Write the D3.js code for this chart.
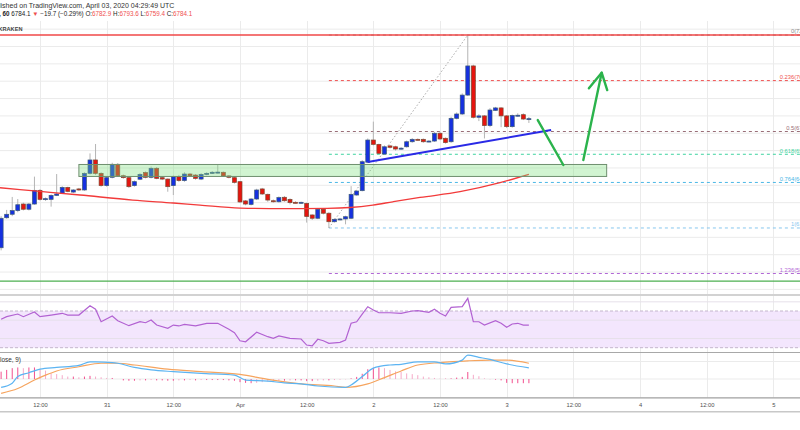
<!DOCTYPE html>
<html>
<head>
<meta charset="utf-8">
<script src="https://cdn.jsdelivr.net/npm/d3@7"></script>
<style>
  body { margin: 0; background: #fff; }
  svg { display: block; }
  text { font-family: "Liberation Sans", Arial, sans-serif; }
</style>
</head>
<body>
<svg width="800" height="430"></svg>
<script>
// hourly BTCUSD candles, Mar 30 05:00 UTC -> Apr 3 04:00 UTC
const candleOpen  = [6040,6213,6233,6254,6292,6262,6292, 6371,6319,6319,6342,6354,6388,6361,6379,6373,6469,6546,6469,6398,6446,6521,6455,6444,6398,6435,6473,6446,6498,6444,6436,6398,6450,6427,6465,6459,6436,6463,6469,6474,6475,6454,6444, 6421,6310,6290,6321,6379,6348,6311,6305,6331,6319,6302,6300,6296,6229,6210,6262,6239,6190,6205,6206, 6210,6344,6369,6533,6661,6636,6580,6627,6622,6612,6622,6651,6665,6665,6654,6655,6700,6671,6651,6786,6811,6920,7088,6792,6800,6744,6832,6846,6800,6738,6803,6807,6782.9];
const candleHigh  = [6222,6258,6333,6321,6300,6298,6450, 6378,6330,6348,6465,6395,6392,6378,6385,6475,6584,6638,6475,6450,6530,6528,6462,6450,6428,6470,6480,6508,6505,6450,6440,6456,6460,6475,6470,6465,6470,6475,6482,6517,6480,6458,6450, 6425,6315,6326,6380,6385,6352,6318,6336,6338,6325,6308,6306,6300,6233,6268,6268,6245,6210,6212,6225, 6395,6372,6545,6670,6767,6640,6630,6632,6628,6620,6658,6672,6670,6670,6660,6708,6708,6676,6795,6820,6930,7266,7095,6810,6805,6845,6852,6850,6805,6808,6815,6815,6793.6];
const candleLow   = [6025,6207,6222,6245,6255,6255,6288, 6312,6310,6277,6338,6350,6360,6355,6368,6368,6462,6460,6392,6392,6440,6450,6438,6385,6392,6430,6440,6440,6435,6430,6363,6344,6420,6420,6450,6432,6430,6458,6465,6468,6448,6440,6410, 6298,6285,6284,6315,6344,6305,6300,6300,6305,6290,6296,6293,6185,6200,6205,6232,6154,6185,6198,6175, 6205,6340,6365,6528,6630,6578,6575,6612,6600,6605,6617,6645,6658,6645,6648,6650,6660,6640,6645,6780,6805,6915,6785,6770,6670,6735,6828,6735,6730,6732,6795,6776,6759.4];
const candleClose = [6210,6233,6254,6288,6262,6292,6371, 6319,6323,6342,6350,6388,6365,6373,6373,6469,6546,6469,6398,6444,6521,6455,6444,6392,6421,6463,6446,6498,6440,6436,6392,6450,6427,6465,6455,6440,6463,6469,6475,6476,6454,6446,6417, 6304,6292,6321,6373,6350,6315,6305,6329,6311,6300,6300,6302,6220,6210,6262,6239,6190,6204,6206,6219, 6348,6367,6536,6661,6636,6584,6622,6619,6609,6614,6651,6665,6664,6651,6655,6700,6667,6646,6786,6811,6920,7088,6792,6800,6744,6834,6846,6800,6738,6803,6804,6782,6784.1];
const firstCandleHour = -7; // hours after Mar 30 12:00 UTC

// 100 SMA (hour, price)
const maHours  = [-7.2, 0, 7.2, 16.7, 24, 28.8, 36, 41.4, 46.8, 51.7, 55.8, 59.9, 63.5, 68.4, 75.6, 82.8, 88];
const maValues = [6386, 6365, 6344, 6315, 6298, 6286, 6269, 6266, 6266, 6267, 6272, 6286, 6305, 6330, 6363, 6415, 6463];

// RSI (14)
const rsiHours  = [-7,-6,-4,-3,-1,0,2,4,5,7,9,10,11,13,14,16,18,19,20,21,23,24,25,26,28,30,32,34,35,36,37,39,41,42,43,45,47,48,49,50,51,52,54,55,56,57,58,59,60,61,63,65,67,68,70,71,72,73,74,76,77,78,79,80,82,83,84,85,86,87,88];
const rsiValues = [61,63.8,66.7,63.8,68.9,63.8,65.6,67.5,65.6,65.6,75.8,71.9,58.3,64.5,59.4,54,58.3,57.2,60.2,54.7,51.1,54.7,53.7,55.5,53.7,56.6,56.6,50.1,46.3,37.6,36.5,46.8,42,40.2,42.8,40.2,39.5,32.9,31.9,39.2,37.6,34.8,35.9,38.4,56.6,58.3,66.7,74.7,71.1,68.1,68.1,67.5,70,70.3,68.6,71.9,67.5,64.5,74,74.7,83.8,58.3,58.3,54.7,59.4,56.6,52.2,55.8,56.6,54.7,54.7];

// MACD (12, 26, close, 9)
const macdHours  = [-7,-5,-4,-2,0,3,7,9,10,13,14,17,20,24,29,35,37,41,44,47,50,55,56,58,60,63,65,68,71,73,76,77,79,81,84,88];
const macdValues = [-24,-12,7,18,28,33,39,49,49,47,45,33,26,21,16,11,-3,-6,-11,-14,-20,-24,-17,7,31,40,42,49,49,43,54,68,62,56,43,32];
const signalHours  = [-7,-4,-1,1,3,7,11,14,17,23,29,36,41,47,53,55,59,62,65,68,72,77,81,84,88];
const signalValues = [-41,-27,-3,11,23,35,45,45,40,28,21,13,-1,-14,-20,-24,-14,4,23,40,47,52,54,54,45];
const histValues = [21,26,31,33,31,33,33, 28,24,16,14,11,7,7,5,7,9,7,5,3,3,0,
  -4,-5,-5,-4,-4,-3,-4,-4,-5,-5,-4,-4,-3,-4,-3,-3,-3,-3,-3,-4,-5,
  -9,-11,-12,-11,-9,-7,-6,-5,-5,-4,-4,-4,-6,-6,-5,-4,-4,-3,-2,-1,
  2,6,15,28,32,33,31,26,22,20,16,14,11,7,5,3,1,1,2,4,6,20,12,8,2,-1,-2,-4,-11,-12,-12,-12,-12];

// fibonacci retracement from the Apr 1 low to the Apr 2 high
const fibLevels = [0, 0.236, 0.5, 0.618, 0.764, 1, 1.236];
const fibColors = ["#8a8a8a", "#f05252", "#9a6f78", "#3fd3a0", "#4bb7e6", "#86c6ee", "#b268d6"];
const fibLowHour = 52, fibHighHour = 77;
const fibLow = 6154, fibHigh = 7266;

// drawings
const zoneHours = [7, 102], zonePrices = [6451, 6520];
const trendHours = [59, 92], trendPrices = [6534, 6719];
const arrowHours = [89.6, 94.2], arrowPrices = [6776, 6517];
const upHours = [97.8, 101.1], upPrices = [6546, 7049];
const headHours = [98.8, 101.1, 102.1], headPrices = [6959, 7049, 6949];
const greenLinePrice = 5848;

let svg = d3.select("svg");
const W = 800;
const mainTop = 21, mainBottom = 294, rsiTop = 296, rsiBottom = 352, macdTop = 353, macdBottom = 397.5;

let x = d3.scaleUtc()
  .domain([new Date(Date.UTC(2020, 2, 30, 4, 48)), new Date(Date.UTC(2020, 3, 5, 4, 48))])
  .range([0, W]);
//hours after Mar 30 12:00 -> pixel
let hx = h => x(new Date(Date.UTC(2020, 2, 30, 12) + h * 36e5));
let y = d3.scaleLinear().domain([6200, 7300]).range([220, 29.15]);
let yRsi = d3.scaleLinear().domain([30, 70]).range([347.7, 311]);
let yMacd = d3.scaleLinear().domain([0, 50]).range([379, 361.5]);

let defs = svg.append("defs");
function clip(id, top, bottom){
  defs.append("clipPath").attr("id", id).append("rect")
    .attr("x", 0).attr("y", top).attr("width", W).attr("height", bottom - top);
}
clip("clipMain", mainTop, mainBottom);
clip("clipRsi", rsiTop, rsiBottom);
clip("clipMacd", macdTop, macdBottom);

//grid
let tickTimes = d3.utcHour.every(12).range(x.domain()[0], x.domain()[1]);
let grid = svg.append("g").attr("stroke", "#ebebeb").attr("stroke-width", 1);
grid.selectAll(".vg").data(tickTimes).enter().append("line")
  .attr("x1", d => Math.round(x(d)) + 0.5).attr("x2", d => Math.round(x(d)) + 0.5)
  .attr("y1", mainTop).attr("y2", macdBottom);
grid.selectAll(".hg").data(d3.range(5800, 7301, 100)).enter().append("line")
  .attr("x1", 0).attr("x2", W)
  .attr("y1", d => y(d)).attr("y2", d => y(d));

let main = svg.append("g").attr("clip-path", "url(#clipMain)");

//fibonacci levels
let fibX0 = hx(fibLowHour);
fibLevels.forEach(function(lvl, i){
  let price = fibHigh - lvl * (fibHigh - fibLow);
  main.append("line")
    .attr("x1", fibX0).attr("x2", W)
    .attr("y1", y(price)).attr("y2", y(price))
    .attr("stroke", fibColors[i]).attr("stroke-width", 1)
    .attr("stroke-dasharray", "3,3");
  main.append("text")
    .attr("x", 819).attr("y", y(price) - 1.6)
    .attr("text-anchor", "end")
    .attr("font-size", 5.8)
    .attr("fill", fibColors[i])
    .text(lvl + "(" + price.toFixed(2) + ")");
});
main.append("line") //diagonal of the retracement
  .attr("x1", hx(fibLowHour)).attr("y1", y(fibLow))
  .attr("x2", hx(fibHighHour)).attr("y2", y(fibHigh))
  .attr("stroke", "#aaa").attr("stroke-width", 1).attr("stroke-dasharray", "1.5,2");

//candles
let candles = candleOpen.map((o, i) => ({
  cx: hx(firstCandleHour + i), o: o, h: candleHigh[i], l: candleLow[i], c: candleClose[i]
}));
main.selectAll(".wick").data(candles).enter().append("line")
  .attr("x1", d => d.cx).attr("x2", d => d.cx)
  .attr("y1", d => y(d.h)).attr("y2", d => y(d.l))
  .attr("stroke", "#b4b4b4").attr("stroke-width", 1);
main.selectAll(".body").data(candles).enter().append("rect")
  .attr("x", d => d.cx - 2).attr("width", 4)
  .attr("y", d => y(Math.max(d.o, d.c)))
  .attr("height", d => Math.max(1, Math.abs(y(d.o) - y(d.c))))
  .attr("fill", d => d.c >= d.o ? "#1530e0" : "#e5150f")
  .attr("stroke", d => d.c >= d.o ? "#3c5a78" : "#7c4a34")
  .attr("stroke-width", 0.7);

//moving average
main.append("path")
  .datum(maHours.map((h, i) => [h, maValues[i]]))
  .attr("fill", "none").attr("stroke", "#f23a3a").attr("stroke-width", 1.3)
  .attr("d", d3.line().x(d => hx(d[0])).y(d => y(d[1])).curve(d3.curveMonotoneX));

//support zone
main.append("rect")
  .attr("x", hx(zoneHours[0])).attr("width", hx(zoneHours[1]) - hx(zoneHours[0]))
  .attr("y", y(zonePrices[1])).attr("height", y(zonePrices[0]) - y(zonePrices[1]))
  .attr("fill", "#7be07b").attr("fill-opacity", 0.35)
  .attr("stroke", "#6f8f6f").attr("stroke-width", 1);

//trend line
main.append("line")
  .attr("x1", hx(trendHours[0])).attr("y1", y(trendPrices[0]))
  .attr("x2", hx(trendHours[1])).attr("y2", y(trendPrices[1]))
  .attr("stroke", "#2a2ae6").attr("stroke-width", 2);

//high line and lower green line
main.append("line").attr("x1", 0).attr("x2", W).attr("y1", y(fibHigh)).attr("y2", y(fibHigh))
  .attr("stroke", "#f04848").attr("stroke-width", 1.4);
main.append("line").attr("x1", 0).attr("x2", W).attr("y1", y(greenLinePrice)).attr("y2", y(greenLinePrice))
  .attr("stroke", "#4caf50").attr("stroke-width", 1.2);

//green arrows
let arrowLine = d3.line().x(d => hx(d[0])).y(d => y(d[1]));
[[arrowHours, arrowPrices], [upHours, upPrices], [headHours, headPrices]].forEach(function(p){
  main.append("path")
    .attr("d", arrowLine(p[0].map((h, i) => [h, p[1][i]])))
    .attr("fill", "none").attr("stroke", "#2bb34c").attr("stroke-width", 2.4)
    .attr("stroke-linecap", "round").attr("stroke-linejoin", "round");
});

//RSI pane
let rsi = svg.append("g").attr("clip-path", "url(#clipRsi)");
rsi.append("rect").attr("x", 0).attr("width", W)
  .attr("y", yRsi(70)).attr("height", yRsi(30) - yRsi(70)).attr("fill", "#f3e6fd");
[40, 60, 80].forEach(v => rsi.append("line").attr("x1", 0).attr("x2", W)
  .attr("y1", yRsi(v)).attr("y2", yRsi(v)).attr("stroke", "#e6e0ea"));
[30, 70].forEach(v => rsi.append("line").attr("x1", 0).attr("x2", W)
  .attr("y1", yRsi(v)).attr("y2", yRsi(v)).attr("stroke", "#c4b6cc")
  .attr("stroke-dasharray", "3,2"));
rsi.append("path")
  .datum(rsiHours.map((h, i) => [h, rsiValues[i]]))
  .attr("fill", "none").attr("stroke", "#b262d2").attr("stroke-width", 1.2)
  .attr("d", d3.line().x(d => hx(d[0])).y(d => yRsi(d[1])));

//MACD pane
let macd = svg.append("g").attr("clip-path", "url(#clipMacd)");
[0, 50].forEach(v => macd.append("line").attr("x1", 0).attr("x2", W)
  .attr("y1", yMacd(v)).attr("y2", yMacd(v)).attr("stroke", "#ebebeb"));
macd.selectAll(".hist").data(histValues).enter().append("rect")
  .attr("x", (d, i) => hx(firstCandleHour + i) - 0.5).attr("width", 1)
  .attr("y", d => yMacd(Math.max(0, d)))
  .attr("height", d => Math.abs(yMacd(d) - yMacd(0)))
  .attr("fill", (d, i) => i > 0 && Math.abs(d) < Math.abs(histValues[i - 1]) ? "#f6a9c8" : "#f2508f");
macd.append("path")
  .datum(signalHours.map((h, i) => [h, signalValues[i]]))
  .attr("fill", "none").attr("stroke", "#f6a45e").attr("stroke-width", 1.2)
  .attr("d", d3.line().x(d => hx(d[0])).y(d => yMacd(d[1])).curve(d3.curveMonotoneX));
macd.append("path")
  .datum(macdHours.map((h, i) => [h, macdValues[i]]))
  .attr("fill", "none").attr("stroke", "#5cb4f2").attr("stroke-width", 1.2)
  .attr("d", d3.line().x(d => hx(d[0])).y(d => yMacd(d[1])).curve(d3.curveMonotoneX));
svg.append("text").attr("x", 21).attr("y", 362).attr("text-anchor", "end")
  .attr("font-size", 6.4).attr("fill", "#333").text("MACD (12, 26, close, 9)");

//pane separators
[[295, "#d2d2d2", 2], [352.5, "#a8a8a8", 1.2], [397.8, "#a0a0a0", 1.2], [411.8, "#c8c8c8", 1.6]]
  .forEach(s => svg.append("line").attr("x1", 0).attr("x2", W)
    .attr("y1", s[0]).attr("y2", s[0]).attr("stroke", s[1]).attr("stroke-width", s[2]));

//time axis
function fmtTick(d){
  if (d.getUTCHours() === 12) return "12:00";
  if (d.getUTCDate() === 1) return d3.utcFormat("%b")(d);
  return d.getUTCDate();
}
let xAxis = svg.append("g").attr("transform", "translate(0,403)")
  .call(d3.axisBottom(x).tickValues(tickTimes).tickFormat(fmtTick).tickSize(0).tickPadding(0));
xAxis.select(".domain").remove();
xAxis.selectAll("text").attr("font-size", 5.8).attr("fill", "#505050")
  .attr("font-family", "Liberation Sans, Arial, sans-serif");

//header
svg.append("text").attr("x", -1).attr("y", 8.4).attr("font-size", 7).attr("fill", "#333")
  .text("lished on TradingView.com, April 03, 2020 04:29:49 UTC");
let h2 = svg.append("text").attr("x", -1).attr("y", 16.4).attr("font-size", 6.3).attr("fill", "#222");
h2.append("tspan").attr("font-weight", "bold").text(", 60 ");
h2.append("tspan").text("6784.1 ");
h2.append("tspan").attr("fill", "#ef4f4f").text("▼");
h2.append("tspan").text(" −19.7 (−0.29%) O:");
h2.append("tspan").attr("fill", "#ef4f4f").text("6782.9");
h2.append("tspan").text(" H:");
h2.append("tspan").attr("fill", "#ef4f4f").text("6793.6");
h2.append("tspan").text(" L:");
h2.append("tspan").attr("fill", "#ef4f4f").text("6759.4");
h2.append("tspan").text(" C:");
h2.append("tspan").attr("fill", "#ef4f4f").text("6784.1");
svg.append("text").attr("x", -1.5).attr("y", 31).attr("font-size", 5.6).attr("font-weight", "bold")
  .attr("fill", "#444").text("KRAKEN");
</script>
</body>
</html>
